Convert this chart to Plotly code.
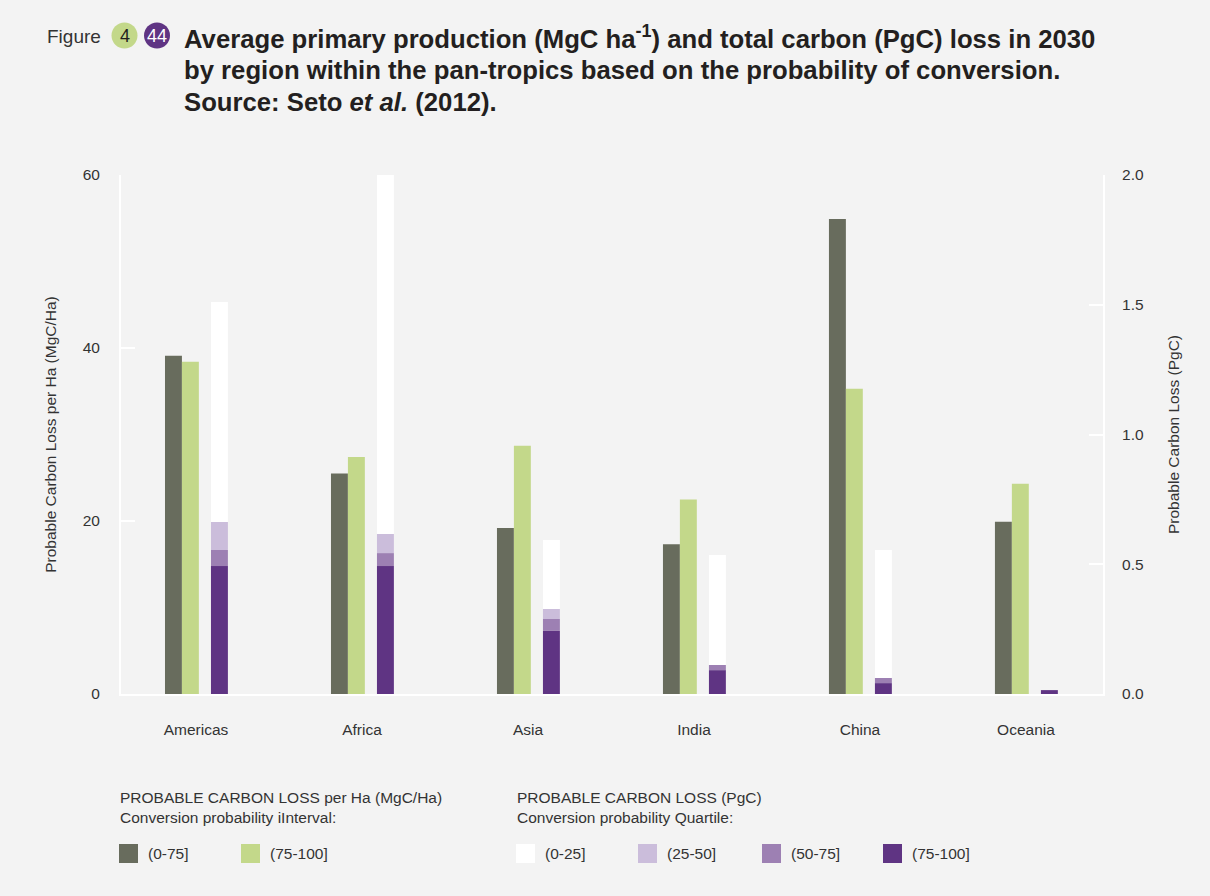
import numpy as np
import plotly.graph_objects as go

# ---------------- data ----------------
regions = ["Americas", "Africa", "Asia", "India", "China", "Oceania"]

# Probable carbon loss per ha (MgC/Ha), by conversion probability interval
loss_ha_0_75 = [39.1, 25.5, 19.2, 17.3, 54.9, 19.9]
loss_ha_75_100 = [38.4, 27.4, 28.7, 22.5, 35.3, 24.3]

# Probable carbon loss (PgC), by conversion probability quartile
pgc_75_100 = [0.493, 0.493, 0.243, 0.092, 0.042, 0.015]
pgc_50_75 = [0.062, 0.050, 0.046, 0.020, 0.020, 0.0]
pgc_25_50 = [0.108, 0.074, 0.039, 0.0, 0.0, 0.0]
pgc_0_25 = [0.848, 1.383, 0.265, 0.424, 0.493, 0.0]

left_ticks = [0, 20, 40, 60]
right_ticks = [0.0, 0.5, 1.0, 1.5, 2.0]

ha_labels = ["(0-75]", "(75-100]"]
quart_labels = ["(0-25]", "(25-50]", "(50-75]", "(75-100]"]

# ---------------- style ----------------
C_DARK = "#686c5d"
C_GREEN = "#c3d88a"
C_Q1 = "#ffffff"
C_Q2 = "#cbbddb"
C_Q3 = "#9d80b3"
C_Q4 = "#5f3483"
BG = "#f3f3f3"
TXT = "#333333"
FONT = "Liberation Sans, Arial, Helvetica, sans-serif"

W, H = 1210, 896
L, R, T, B = 121, 107, 175, 202
PW, PH = W - L - R, H - T - B


def px(x):
    return (x - L) / PW


def py(y):
    return (H - B - y) / PH


BAR_W = 0.102

fig = go.Figure()

fig.add_trace(go.Bar(x=regions, y=loss_ha_0_75, name=ha_labels[0], marker_color=C_DARK,
                     marker_line_width=0, width=BAR_W, offset=-0.187, yaxis="y",
                     showlegend=False))
fig.add_trace(go.Bar(x=regions, y=loss_ha_75_100, name=ha_labels[1], marker_color=C_GREEN,
                     marker_line_width=0, width=BAR_W, offset=-0.085, yaxis="y",
                     showlegend=False))

stack = [(pgc_75_100, C_Q4, quart_labels[3]),
         (pgc_50_75, C_Q3, quart_labels[2]),
         (pgc_25_50, C_Q2, quart_labels[1]),
         (pgc_0_25, C_Q1, quart_labels[0])]
base = np.zeros(len(regions))
for vals, col, name in stack:
    v = np.array(vals, dtype=float)
    fig.add_trace(go.Bar(x=regions, y=v, base=base.copy(), name=name, marker_color=col,
                         marker_line_width=0, width=BAR_W, offset=0.090, yaxis="y2",
                         showlegend=False))
    base = base + v

fig.update_layout(
    width=W, height=H,
    margin=dict(l=L, r=R, t=T, b=B, pad=0),
    paper_bgcolor=BG, plot_bgcolor=BG,
    barmode="overlay",
    font=dict(family=FONT, size=15.5, color=TXT),
    showlegend=False,
    xaxis=dict(type="category", range=[-0.452, 5.464], showline=True, linecolor="white",
               linewidth=2, ticks="", showgrid=False, zeroline=False,
               tickfont=dict(size=15.5, color=TXT), ticklabelstandoff=20),
    yaxis=dict(range=[0, 60], tickvals=left_ticks, showline=True, linecolor="white",
               linewidth=2, ticks="inside", ticklen=14, tickwidth=2, tickcolor="white",
               showgrid=False, zeroline=False, tickfont=dict(size=15.5, color=TXT),
               ticklabelstandoff=16,
               title=dict(text="Probable Carbon Loss per Ha (MgC/Ha)",
                          font=dict(size=15.5, color=TXT), standoff=22)),
    yaxis2=dict(range=[0, 2], tickvals=right_ticks, tickformat=".1f", overlaying="y",
                side="right", showline=True, linecolor="white", linewidth=2,
                ticks="inside", ticklen=14, tickwidth=2, tickcolor="white",
                showgrid=False, zeroline=False, tickfont=dict(size=15.5, color=TXT),
                ticklabelstandoff=14,
                title=dict(text="Probable Carbon Loss (PgC)",
                           font=dict(size=15.5, color=TXT), standoff=25)),
)

shapes = []
annotations = []

# ---- title block ----
annotations.append(dict(text="Figure", x=px(45), y=py(36), xref="paper", yref="paper",
                        xanchor="left", yanchor="middle", showarrow=False,
                        font=dict(size=19, color=TXT, family=FONT)))
shapes.append(dict(type="circle", xref="paper", yref="paper",
                   x0=px(111.5), x1=px(137.5), y0=py(48.5), y1=py(22.5),
                   fillcolor=C_GREEN, line=dict(width=0)))
shapes.append(dict(type="circle", xref="paper", yref="paper",
                   x0=px(144), x1=px(170), y0=py(48.5), y1=py(22.5),
                   fillcolor=C_Q4, line=dict(width=0)))
annotations.append(dict(text="4", x=px(124.5), y=py(35.5), xref="paper", yref="paper",
                        xanchor="center", yanchor="middle", showarrow=False,
                        font=dict(size=18, color="#231f20", family=FONT)))
annotations.append(dict(text="44", x=px(157), y=py(35.5), xref="paper", yref="paper",
                        xanchor="center", yanchor="middle", showarrow=False,
                        font=dict(size=18, color="white", family=FONT)))

title_lines = [
    "<b>Average primary production (MgC ha<sup>-1</sup>) and total carbon (PgC) loss in 2030</b>",
    "<b>by region within the pan-tropics based on the probability of conversion.</b>",
    "<b>Source: Seto <i>et al.</i> (2012).</b>",
]
for i, line in enumerate(title_lines):
    annotations.append(dict(text=line, x=px(182), y=py(37 + 32.5 * i), xref="paper", yref="paper",
                            xanchor="left", yanchor="middle", showarrow=False,
                            font=dict(size=25.7, color="#231f20", family=FONT)))

# ---- legend block ----
annotations.append(dict(text="PROBABLE CARBON LOSS per Ha (MgC/Ha)<br>Conversion probability iInterval:",
                        x=px(118), y=py(787), xref="paper", yref="paper", align="left",
                        xanchor="left", yanchor="top", showarrow=False,
                        font=dict(size=15.5, color=TXT, family=FONT)))
annotations.append(dict(text="PROBABLE CARBON LOSS (PgC)<br>Conversion probability Quartile:",
                        x=px(515), y=py(787), xref="paper", yref="paper", align="left",
                        xanchor="left", yanchor="top", showarrow=False,
                        font=dict(size=15.5, color=TXT, family=FONT)))

legend_items = [
    (119, C_DARK, ha_labels[0]),
    (241, C_GREEN, ha_labels[1]),
    (516, C_Q1, quart_labels[0]),
    (638, C_Q2, quart_labels[1]),
    (762, C_Q3, quart_labels[2]),
    (883, C_Q4, quart_labels[3]),
]
for x0, col, lab in legend_items:
    shapes.append(dict(type="rect", xref="paper", yref="paper",
                       x0=px(x0), x1=px(x0 + 19), y0=py(863), y1=py(844),
                       fillcolor=col, line=dict(width=0)))
    annotations.append(dict(text=lab, x=px(x0 + 27), y=py(853.5), xref="paper", yref="paper",
                            xanchor="left", yanchor="middle", showarrow=False,
                            font=dict(size=15.5, color=TXT, family=FONT)))

fig.update_layout(shapes=shapes, annotations=annotations)

fig.write_html("out.html",
               config={"displayModeBar": False},
               post_script="document.body.style.margin='0';document.body.style.padding='0';"
                           "document.body.style.overflow='hidden';")
